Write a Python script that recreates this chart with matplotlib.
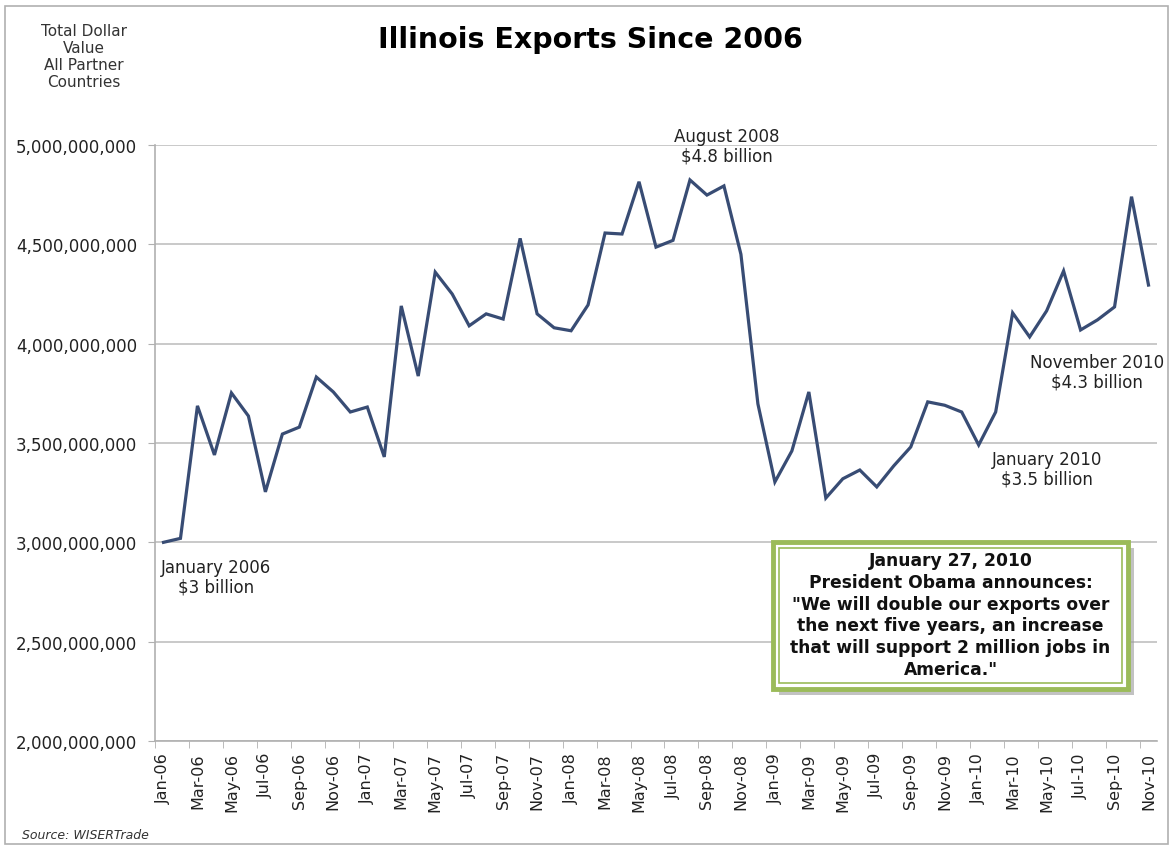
import numpy as np
import matplotlib.pyplot as plt
from matplotlib.patches import Rectangle

# monthly exports, Jan-06 .. Nov-10 (billions of dollars)
months = ['Jan', 'Feb', 'Mar', 'Apr', 'May', 'Jun', 'Jul', 'Aug', 'Sep', 'Oct', 'Nov', 'Dec']
labels = [f'{m}-{y:02d}' for y in range(6, 11) for m in months][:59]
exports_bn = [
    3.000, 3.020, 3.687, 3.440, 3.752, 3.636, 3.254, 3.545, 3.580, 3.832, 3.757, 3.656,
    3.681, 3.430, 4.190, 3.837, 4.360, 4.250, 4.090, 4.150, 4.124, 4.530, 4.150, 4.080,
    4.065, 4.195, 4.557, 4.552, 4.815, 4.486, 4.520, 4.824, 4.748, 4.794, 4.450, 3.697,
    3.304, 3.460, 3.757, 3.223, 3.320, 3.364, 3.279, 3.385, 3.480, 3.707, 3.690, 3.656,
    3.490, 3.656, 4.155, 4.034, 4.165, 4.366, 4.069, 4.120, 4.185, 4.740, 4.295,
]
yticks = [2e9, 2.5e9, 3e9, 3.5e9, 4e9, 4.5e9, 5e9]

W, H = 1172, 853


def fx(x):
    return x / W


def fy(y):
    return 1 - y / H


fig = plt.figure(figsize=(W / 100, H / 100), dpi=100)
plt.rcParams['font.family'] = 'DejaVu Sans'

# thin frame around the whole picture
fig.patches.append(Rectangle((fx(5), fy(845)), fx(1163), (838) / H, transform=fig.transFigure,
                             fill=False, edgecolor='#b0b0b0', lw=1.2))

ax = fig.add_axes([fx(155), fy(742), fx(1002), 596 / H])
x = np.arange(len(exports_bn))
ax.plot(x, np.array(exports_bn) * 1e9, color='#384c74', lw=2.3, solid_joinstyle='miter')

ax.set_xlim(-0.5, len(exports_bn) - 0.5)
ax.set_ylim(2e9, 5e9)
ax.set_yticks(yticks)
ax.set_yticklabels([f'{int(v):,}' for v in yticks], fontsize=12, color='#222222')
ax.yaxis.grid(True, color='#c0c0c0', lw=1.2)
ax.set_axisbelow(True)

ax.set_xticks(x[::2])
ax.set_xticklabels(labels[::2], rotation=90, fontsize=11.5, color='#222222')
ax.set_xticks(np.arange(-0.5, len(exports_bn), 2), minor=True)
ax.tick_params(axis='x', which='major', length=0, pad=8)
ax.tick_params(axis='x', which='minor', length=5, color='#b0b0b0')
ax.tick_params(axis='y', length=5, color='#b0b0b0', pad=8)

for s in ['top', 'right']:
    ax.spines[s].set_visible(False)
for s in ['left', 'bottom']:
    ax.spines[s].set_color('#b0b0b0')
    ax.spines[s].set_linewidth(1.2)

# titles
fig.text(fx(590), fy(40), 'Illinois Exports Since 2006', ha='center', va='center',
         fontsize=20.5, fontweight='bold', color='black')
fig.text(fx(84), fy(57), 'Total Dollar\nValue\nAll Partner\nCountries', ha='center', va='center',
         fontsize=11, color='#333333', linespacing=1.18)
fig.text(fx(22), fy(836), 'Source: WISERTrade', ha='left', va='center',
         fontsize=9, style='italic', color='#333333')

# point annotations
notes = [
    (216, 578, 'January 2006\n$3 billion'),
    (727, 147, 'August 2008\n$4.8 billion'),
    (1097, 373, 'November 2010\n$4.3 billion'),
    (1047, 470, 'January 2010\n$3.5 billion'),
]
for nx, ny, txt in notes:
    fig.text(fx(nx), fy(ny), txt, ha='center', va='center', fontsize=12,
             color='#222222', linespacing=1.1)

# quote box
bx0, by0, bx1, by1 = 773, 543, 1128, 690
fig.patches.append(Rectangle((fx(bx0 + 6), fy(by1 + 6)), fx(bx1 - bx0), (by1 - by0) / H,
                             transform=fig.transFigure, facecolor='#9a9a9a', edgecolor='none', alpha=0.6))
fig.patches.append(Rectangle((fx(bx0), fy(by1)), fx(bx1 - bx0), (by1 - by0) / H,
                             transform=fig.transFigure, facecolor='white', edgecolor='#9bbb59', lw=3.5))
fig.patches.append(Rectangle((fx(bx0 + 6), fy(by1 - 6)), fx(bx1 - bx0 - 12), (by1 - by0 - 12) / H,
                             transform=fig.transFigure, facecolor='none', edgecolor='#9bbb59', lw=1.2))
quote = ('January 27, 2010\nPresident Obama announces:\n"We will double our exports over\n'
         'the next five years, an increase\nthat will support 2 million jobs in\nAmerica."')
fig.text(fx((bx0 + bx1) / 2), fy((by0 + by1) / 2 - 1), quote, ha='center', va='center',
         fontsize=12.3, fontweight='bold', color='#111111', linespacing=1.26)

fig.savefig('out.png', dpi=100)
